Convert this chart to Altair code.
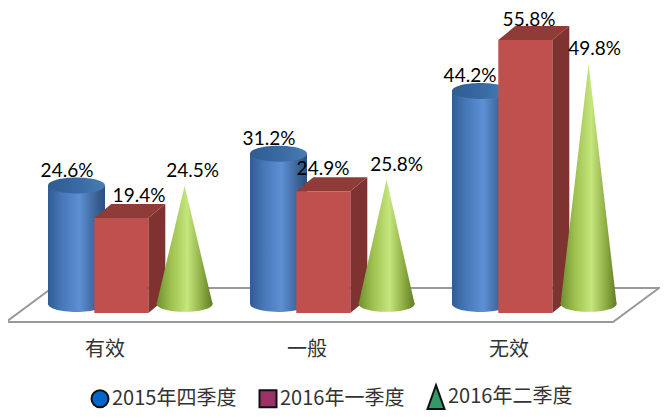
import altair as alt
import pandas as pd

categories = ["有效", "一般", "无效"]
series = ["2015年四季度", "2016年一季度", "2016年二季度"]
v2015q4 = [24.6, 31.2, 44.2]
v2016q1 = [19.4, 24.9, 55.8]
v2016q2 = [24.5, 25.8, 49.8]

# ---- layout helpers: picture pixels <-> data units
W, H = 652, 403
K = 4.89          # px per percent
X_STEP = 202      # px per category
def xu(p): return (p - 105) / X_STEP
def yv(p): return (312.9 - p) / K
sx = alt.Scale(domain=[xu(8), xu(8 + W)], range=[0, W], nice=False, zero=False)
sy = alt.Scale(domain=[yv(8 + H), yv(8)], range=[H, 0], nice=False, zero=False)
X = lambda f="x": alt.X(f"{f}:Q", scale=sx, axis=None)
Y = lambda f="y": alt.Y(f"{f}:Q", scale=sy, axis=None)
X2 = alt.X2("x2:Q")
Y2 = alt.Y2("y2:Q")

BASE = yv(304)    # round shapes stand further back
DEPTH_K = 0.985
def back(v): return BASE + v * DEPTH_K

def grad(stops):
    return alt.Gradient(gradient="linear", x1=0, x2=1, y1=0, y2=0,
                        stops=[alt.GradientStop(offset=o, color=c) for o, c in stops])

BLUE = grad([(0, "#2f5c94"), (0.25, "#4778b8"), (0.55, "#5c90d4"), (0.8, "#40699f"), (1, "#2a4f7e")])
BLUE_TOP = grad([(0, "#2f5c90"), (0.6, "#3a6ca6"), (1, "#4a7cb4")])
GREEN = grad([(0, "#6f8f30"), (0.25, "#9dc04f"), (0.55, "#c4e67c"), (0.8, "#8fae45"), (1, "#5f7d25")])
ELLIPSE = "M-1,0A1,0.28 0 1 1 1,0A1,0.28 0 1 1 -1,0Z"
CYL_W, RED_W, CONE_W = 57, 54, 56
RED_DX, RED_DY = 17, 14

# ---- floor
floor = pd.DataFrame({
    "x": [xu(p) for p in (6, 52, 659, 613, 6)],
    "y": [yv(p) for p in (322, 288, 288, 322, 322)],
    "o": range(5),
})
layers = [alt.Chart(floor).mark_line(color="#999999", strokeWidth=2).encode(x=X(), y=Y(), order="o:O")]

# ---- cylinders
cyl_rows = []
for i, v in enumerate(v2015q4):
    l = i + xu(48)
    cyl_rows.append({"x": l, "x2": l + CYL_W / X_STEP, "c": l + CYL_W / 2 / X_STEP, "y": back(v), "y2": BASE})
cyl = pd.DataFrame(cyl_rows)
layers += [
    alt.Chart(cyl).mark_point(filled=True, shape=ELLIPSE, size=CYL_W ** 2, fill=BLUE, opacity=1, strokeWidth=0)
        .encode(x=X("c"), y=Y("y2")),
    alt.Chart(cyl).mark_rect(fill=BLUE).encode(x=X(), x2=X2, y=Y(), y2=Y2),
    alt.Chart(cyl).mark_point(filled=True, shape=ELLIPSE, size=CYL_W ** 2, fill=BLUE_TOP, opacity=1, strokeWidth=0)
        .encode(x=X("c"), y=Y()),
]

# ---- red boxes
front, side, top = [], [], []
for i, v in enumerate(v2016q1):
    l = i + xu(94.3)
    r = l + RED_W / X_STEP
    dx, dy = RED_DX / X_STEP, RED_DY / K
    front.append({"x": l, "x2": r, "y": v, "y2": 0})
    side += [{"g": i, "x": r, "y": v, "y2": 0}, {"g": i, "x": r + dx, "y": v + dy, "y2": dy}]
    top += [{"g": i, "x": l, "y": v, "y2": v}, {"g": i, "x": l + dx, "y": v + dy, "y2": v},
            {"g": i, "x": r, "y": v + dy, "y2": v}, {"g": i, "x": r + dx, "y": v + dy, "y2": v + dy}]
layers += [
    alt.Chart(pd.DataFrame(side)).mark_area(color="#7e3331", orient="vertical").encode(x=X(), y=Y(), y2=Y2, detail="g:N"),
    alt.Chart(pd.DataFrame(top)).mark_area(color="#8f3b38", orient="vertical").encode(x=X(), y=Y(), y2=Y2, detail="g:N"),
    alt.Chart(pd.DataFrame(front)).mark_rect(color="#c0504d").encode(x=X(), x2=X2, y=Y(), y2=Y2),
]

# ---- cones
cone, base = [], []
for i, v in enumerate(v2016q2):
    c = i + xu(184.6)
    hw = CONE_W / 2 / X_STEP
    cone += [{"g": i, "x": c - hw, "y": BASE, "y2": BASE}, {"g": i, "x": c, "y": back(v), "y2": BASE},
             {"g": i, "x": c + hw, "y": BASE, "y2": BASE}]
    base.append({"x": c, "y": BASE})
layers += [
    alt.Chart(pd.DataFrame(base)).mark_point(filled=True, shape=ELLIPSE, size=CONE_W ** 2, fill=GREEN, opacity=1, strokeWidth=0)
        .encode(x=X(), y=Y()),
    alt.Chart(pd.DataFrame(cone)).mark_area(fill=GREEN, orient="vertical").encode(x=X(), y=Y(), y2=Y2, detail="g:N"),
]

# ---- value labels (each nudged clear of its shape, as in the picture)
labels = []
cyl_nudge = [-9.5, -9.5, -10.5]
red_nudge = [18, 0, 4]
red_lift = [22, 22, 20.5]
cone_nudge = [8, 10, 6]
for i in range(3):
    labels.append({"x": i + xu(76.5 + cyl_nudge[i]), "y": back(v2015q4[i]) + 15 / K, "t": f"{v2015q4[i]}%"})
    labels.append({"x": i + xu(121 + red_nudge[i]), "y": v2016q1[i] + red_lift[i] / K, "t": f"{v2016q1[i]}%"})
    labels.append({"x": i + xu(184.6 + cone_nudge[i]), "y": back(v2016q2[i]) + 15 / K, "t": f"{v2016q2[i]}%"})
layers.append(
    alt.Chart(pd.DataFrame(labels)).mark_text(font="Lato", fontSize=19, color="#000000", align="center", baseline="middle")
    .encode(x=X(), y=Y(), text="t:N")
)

# ---- category labels
cats = pd.DataFrame({"x": [0, 1, 2], "y": [yv(350)] * 3, "t": categories})
layers.append(
    alt.Chart(cats).mark_text(font="Noto Sans CJK SC", fontSize=20, color="#333333", align="center", baseline="middle")
    .encode(x=X(), y=Y(), text="t:N")
)

# ---- legend
leg = alt.Legend(title=None, orient="none", legendX=82, legendY=379, direction="horizontal",
                 labelFont="Noto Sans CJK SC", labelFontSize=20, labelColor="#333333", labelOffset=2,
                 symbolSize=289, symbolStrokeWidth=2, symbolOpacity=1,
                 columnPadding=18, labelLimit=200)
shapes = ["circle", "square", "M0,-1.4L1,1.4L-1,1.4Z"]
fills = ["#0066cc", "#993366", "#339966"]
edges = ["#111111", "#111111", "#111111"]
legend_layer = alt.Chart(pd.DataFrame({"s": series})).mark_point(
    filled=True, opacity=0, strokeWidth=2
).encode(
    x=alt.value(0), y=alt.value(0),
    shape=alt.Shape("s:N", sort=series, scale=alt.Scale(domain=series, range=shapes), legend=leg),
    fill=alt.Fill("s:N", sort=series, scale=alt.Scale(domain=series, range=fills), legend=leg),
    stroke=alt.Stroke("s:N", sort=series, scale=alt.Scale(domain=series, range=edges), legend=leg),
)
layers.append(legend_layer)

chart = alt.layer(*layers).properties(
    width=W, height=H, padding=0,
    autosize=alt.AutoSizeParams(type="none", contains="padding"),
    background="white",
).configure_view(stroke=None)

chart.save("out.html", embed_options={"renderer": "svg", "actions": False})
